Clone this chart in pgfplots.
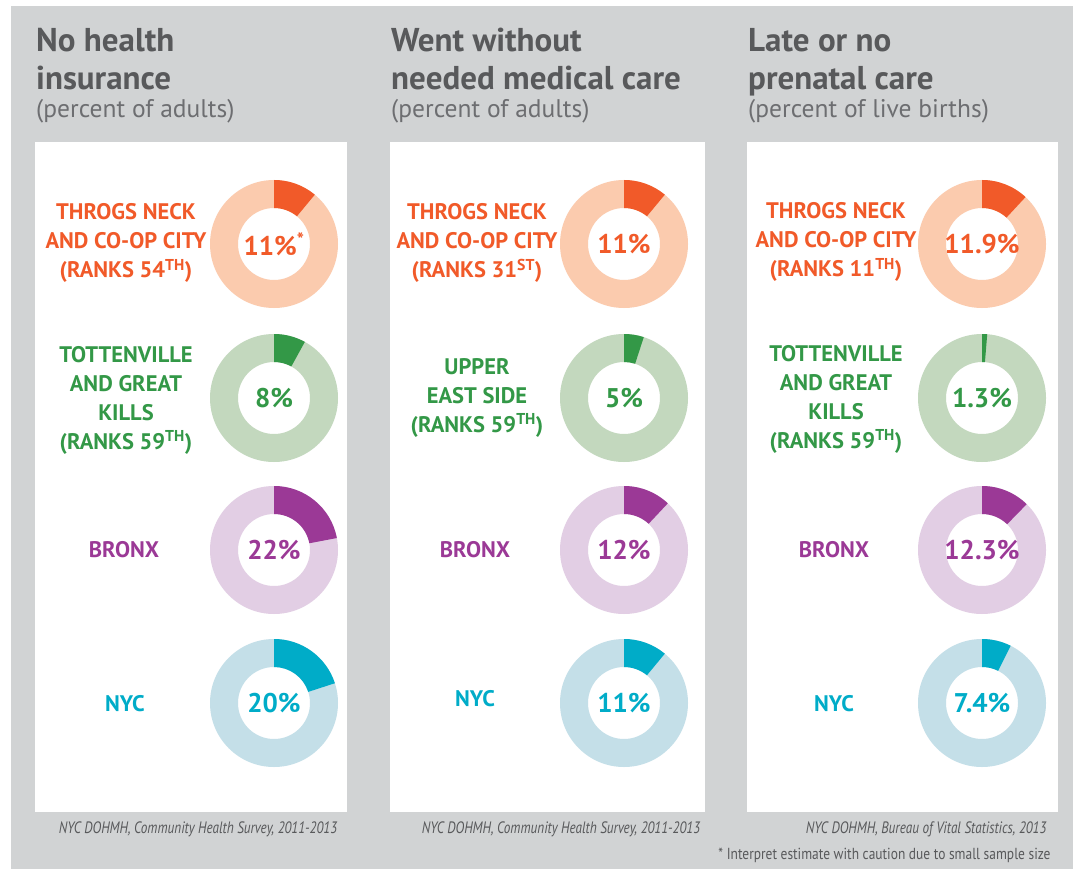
\documentclass[border=0pt]{standalone}
\usepackage{fontspec}
\setmainfont{PT Sans}
\usepackage{graphicx}
\usepackage{pgfplots}
\usepackage{pgfplotstable}
\pgfplotsset{compat=1.18}

\definecolor{bg}{HTML}{D1D3D4}
\definecolor{ttl}{HTML}{58595B}
\definecolor{sub}{HTML}{6D6E71}
\definecolor{oD}{HTML}{F15A29}
\definecolor{oL}{HTML}{FBCBAE}
\definecolor{gD}{HTML}{339847}
\definecolor{gL}{HTML}{C3D8BE}
\definecolor{pD}{HTML}{9B3996}
\definecolor{pL}{HTML}{E2CEE4}
\definecolor{bD}{HTML}{00ACC8}
\definecolor{bL}{HTML}{C4DFE8}

\protected\def\cau{\textsuperscript{*}}

% x, y in pixels from the top left; v = percent; lab = text in the hole
\pgfplotstableread{
x y v lab
274 244 11 11\%\cau
624 244 11 11\%
982 244 11.9 11.9\%
}\rowA
\pgfplotstableread{
x y v lab
274 398 8 8\%
624 398 5 5\%
982 398 1.3 1.3\%
}\rowB
\pgfplotstableread{
x y v lab
274 550 22 22\%
624 550 12 12\%
982 550 12.3 12.3\%
}\rowC
\pgfplotstableread{
x y v lab
274 703 20 20\%
624 703 11 11\%
982 703 7.4 7.4\%
}\rowD

\pgfdeclareplotmark{blank}{}
\pgfplotsset{dk/.initial=black, lt/.initial=gray}
\newcommand\donut{%
  \pgfmathsetmacro\ang{90-3.6*\pct}%
  \fill[fill=\ltc, draw=none, even odd rule] (0pt,0pt) circle[radius=64pt] (0pt,0pt) circle[radius=36pt];
  \fill[fill=\dkc, draw=none] (90:64pt) arc[start angle=90, end angle=\ang, radius=64pt]
    -- (\ang:36pt) arc[start angle=\ang, end angle=90, radius=36pt] -- cycle;
}
\newcommand\sidelab[4]{\node[align=center, text=#3, font=\fontsize{22.5}{29}\selectfont\bfseries] at (axis cs:#1,#2) {#4};}
\newcommand\ttlA[3]{\node[anchor=base west, inner sep=0pt, text=ttl, font=\fontsize{33}{35}\selectfont\bfseries] at (axis cs:#1,#2) {#3};}
\newcommand\ttlB[3]{\node[anchor=base west, inner sep=0pt, text=sub, font=\fontsize{25.5}{27}\selectfont] at (axis cs:#1,#2) {#3};}

\begin{document}
\begin{tikzpicture}
% page, grey ground and white panels (y flipped: 869 - y)
\fill[white] (0pt,0pt) rectangle (1084pt,869pt);
\fill[bg] (11pt,0pt) rectangle (1073pt,863pt);
\fill[white] (35pt,57pt) rectangle (347pt,727pt);
\fill[white] (390pt,57pt) rectangle (705pt,727pt);
\fill[white] (747pt,57pt) rectangle (1058pt,727pt);
\begin{axis}[
  width=1084pt, height=869pt, scale only axis,
  xmin=0, xmax=1084, ymin=0, ymax=869, y dir=reverse,
  hide axis, clip=false,
  donut/.style={scatter, only marks, mark=blank,
    point meta=\thisrow{v},
    visualization depends on={\thisrow{v}\as\pct},
    scatter/@pre marker code/.code={%
      \edef\dkc{\pgfkeysvalueof{/pgfplots/dk}}%
      \edef\ltc{\pgfkeysvalueof{/pgfplots/lt}}%
      \donut},
    scatter/@post marker code/.code={}},
  hole/.style={only marks, mark=blank,
    point meta=explicit symbolic, nodes near coords,
    every node near coord/.append style={anchor=center, text=#1,
      font=\fontsize{27}{29}\selectfont\bfseries}},
]
\addplot[donut, dk=oD, lt=oL] table {\rowA};
\addplot[donut, dk=gD, lt=gL] table {\rowB};
\addplot[donut, dk=pD, lt=pL] table {\rowC};
\addplot[donut, dk=bD, lt=bL] table {\rowD};
\addplot[hole=oD] table[meta=lab] {\rowA};
\addplot[hole=gD] table[meta=lab] {\rowB};
\addplot[hole=pD] table[meta=lab] {\rowC};
\addplot[hole=bD] table[meta=lab] {\rowD};

% titles
\ttlA{36}{52}{No health}
\ttlA{36}{90}{insurance}
\ttlB{36}{118}{(percent of adults)}
\ttlA{391}{52}{Went without}
\ttlA{391}{90}{needed medical care}
\ttlB{391}{118}{(percent of adults)}
\ttlA{748}{52}{Late or no}
\ttlA{748}{90}{prenatal care}
\ttlB{748}{118}{(percent of live births)}

% side labels
\sidelab{126}{243}{oD}{THROGS NECK\\AND CO-OP CITY\\(RANKS 54\textsuperscript{TH})}
\sidelab{126}{400}{gD}{TOTTENVILLE\\AND GREAT\\KILLS\\(RANKS 59\textsuperscript{TH})}
\sidelab{124}{550}{pD}{BRONX}
\sidelab{125}{704}{bD}{NYC}
\sidelab{477}{243}{oD}{THROGS NECK\\AND CO-OP CITY\\(RANKS 31\textsuperscript{ST})}
\sidelab{477}{398}{gD}{UPPER\\EAST SIDE\\(RANKS 59\textsuperscript{TH})}
\sidelab{475}{550}{pD}{BRONX}
\sidelab{475}{699}{bD}{NYC}
\sidelab{836}{242}{oD}{THROGS NECK\\AND CO-OP CITY\\(RANKS 11\textsuperscript{TH})}
\sidelab{836}{399}{gD}{TOTTENVILLE\\AND GREAT\\KILLS\\(RANKS 59\textsuperscript{TH})}
\sidelab{834}{550}{pD}{BRONX}
\sidelab{834}{704}{bD}{NYC}

% sources
\node[text=ttl, font=\fontsize{16.5}{19}\selectfont\itshape] at (axis cs:198,829)
  {\scalebox{0.8}[1]{NYC DOHMH, Community Health Survey, 2011-2013}};
\node[text=ttl, font=\fontsize{16.5}{19}\selectfont\itshape] at (axis cs:561,829)
  {\scalebox{0.8}[1]{NYC DOHMH, Community Health Survey, 2011-2013}};
\node[anchor=east, text=ttl, font=\fontsize{16.5}{19}\selectfont\itshape] at (axis cs:1050,829)
  {\scalebox{0.8}[1]{NYC DOHMH, Bureau of Vital Statistics, 2013}};
\node[anchor=east, text=ttl, font=\fontsize{16}{18}\selectfont] at (axis cs:1054,855)
  {\scalebox{0.84}[1]{* Interpret estimate with caution due to small sample size}};
\end{axis}
\end{tikzpicture}
\end{document}
